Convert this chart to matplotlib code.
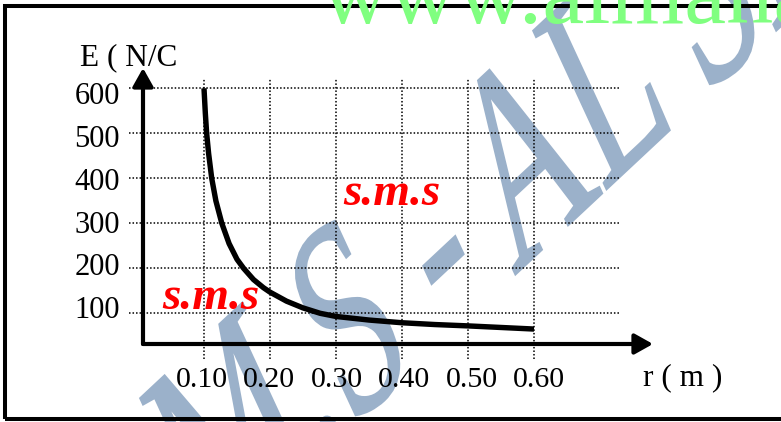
import numpy as np
import matplotlib.pyplot as plt
from matplotlib.patches import Rectangle, PathPatch
from matplotlib.textpath import TextPath
from matplotlib.font_manager import FontProperties
from matplotlib.transforms import Affine2D

# curve
r_vals = [0.100, 0.102, 0.104, 0.107, 0.1117, 0.118, 0.127, 0.138, 0.150, 0.160, 0.175, 0.190,
          0.200, 0.225, 0.250, 0.276, 0.300, 0.350, 0.400, 0.450, 0.500, 0.550, 0.600]
e_vals = [600, 545, 500, 455, 400, 350, 300, 255, 220, 200, 175, 157,
          147, 127, 112, 100, 93, 85, 79, 75, 72, 68.5, 65]

y_ticks = [100, 200, 300, 400, 500, 600]
x_ticks = [0.10, 0.20, 0.30, 0.40, 0.50, 0.60]
x_tick_labels = ['0.10', '0.20', '0.30', '0.40', '0.50', '0.60']

W, H = 781, 422
SERIF = 'Liberation Serif'


def r_at(px):
    return 0.1 + (px - 204) / 660


def e_at(py):
    return 100 + (313.3 - py) / 0.45


def fx(px):
    return px / W


def fy(py):
    return 1 - py / H


fig = plt.figure(figsize=(W / 100, H / 100), dpi=100)
ax = fig.add_axes([0, 0, 1, 1])
ax.set_xlim(r_at(0), r_at(W))
ax.set_ylim(e_at(H), e_at(0))
ax.axis('off')
ax.patch.set_visible(False)

# stretched, tilted wordart watermark behind everything (pixel coords, y up)
wm = TextPath((0, 0), 'M.S - AL SHAMIL', size=1, prop=FontProperties(family=SERIF))
skew = np.array([[123.0, -112.0, 210.0],
                 [115.0, 242.0, H - 560.0],
                 [0.0, 0.0, 1.0]])
wm_tr = Affine2D(skew).scale(1 / W, 1 / H) + fig.transFigure
fig.add_artist(PathPatch(wm, transform=wm_tr, facecolor='#9BB1CA', edgecolor='#9BB1CA',
                         lw=1.5, zorder=-1))

# grid
dots = (0, (1, 1.3))
ax.hlines(y_ticks, r_at(129), r_at(620), colors='black', lw=1.1, linestyles=[dots])
ax.vlines(x_ticks, e_at(359), e_at(78), colors='black', lw=1.1, linestyles=[dots])

# axes with arrows
x0, y0 = r_at(143), e_at(344)
arrow = dict(arrowstyle='-|>,head_length=0.5,head_width=0.28', lw=3, color='black',
             mutation_scale=22, shrinkA=0, shrinkB=0)
ax.annotate('', xy=(x0, e_at(68)), xytext=(x0, y0), arrowprops=arrow)
ax.annotate('', xy=(r_at(653), y0), xytext=(x0, y0), arrowprops=arrow)

# curve
ax.plot(r_vals, e_vals, color='black', lw=3.9, solid_capstyle='butt', solid_joinstyle='round')

# tick labels
for e in y_ticks:
    ax.text(r_at(120), e_at(318) + (e - 100) * 0.949, str(e), ha='right', va='baseline',
            family=SERIF, fontsize=22)
for i, (xt, lab) in enumerate(zip(x_ticks, x_tick_labels)):
    ax.text(xt - 0.003 + i * 0.0021, e_at(387), lab, ha='center', va='baseline',
            family=SERIF, fontsize=21.5)

fig.text(fx(80), fy(65), 'E ( N/C', ha='left', va='baseline', family=SERIF, fontsize=22.5)
fig.text(fx(643), fy(385), 'r ( m )', ha='left', va='baseline', family=SERIF, fontsize=22.5)

# red marks
for px, py in [(343, 205), (162, 309)]:
    fig.text(fx(px), fy(py), 's.m.s', color='red', fontsize=34, fontweight='bold',
             fontstyle='italic', family=SERIF, va='baseline')

# green site name at the top, cut by the image edge
fig.text(fx(321), fy(23), 'www.almanahj.com', color='#80FF80', fontsize=68,
         family=SERIF, va='baseline')

# frame
fig.add_artist(Rectangle((fx(5), fy(419)), fx(800) - fx(5), fy(6) - fy(419),
                         transform=fig.transFigure, fill=False, lw=2.9, ec='black'))

fig.savefig('out.png', dpi=100)
